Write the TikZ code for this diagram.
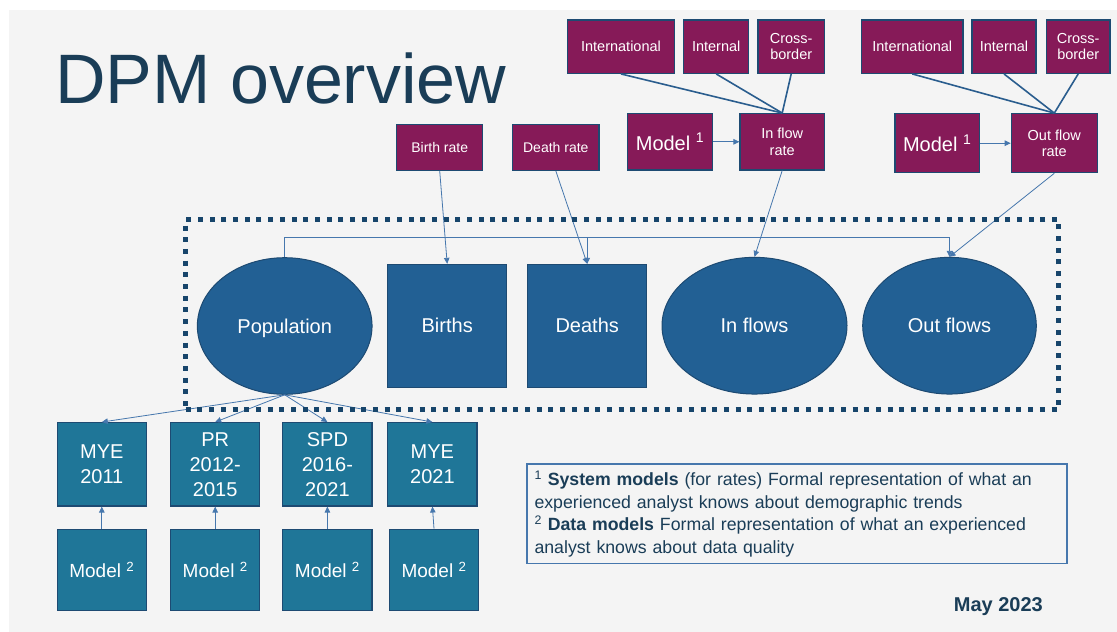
\documentclass[tikz,border=0pt]{standalone}
\usepackage{fontspec}
\setmainfont{Liberation Sans}
\usetikzlibrary{arrows.meta,shapes.geometric}
\definecolor{slide}{HTML}{F4F4F4}
\definecolor{plum}{HTML}{861A58}
\definecolor{popblue}{HTML}{226094}
\definecolor{srcteal}{HTML}{1F7698}
\definecolor{rim}{HTML}{1D4A72}
\definecolor{link}{HTML}{4677AD}
\definecolor{feedline}{HTML}{2A5D8E}
\definecolor{navy}{HTML}{1A3D57}
\definecolor{dots}{HTML}{17456B}
\begin{document}
\begin{tikzpicture}[x=1pt,y=-1pt,
  rate/.style={draw=rim,line width=1.2pt,fill=plum,text=white,inner sep=0pt,align=center,font=\fontsize{14.5}{16.5}\selectfont},
  stock/.style={draw=rim,line width=1pt,fill=popblue,text=white,inner sep=0pt,text height=14.3pt,text depth=0pt,font=\fontsize{20}{24}\selectfont},
  src/.style={draw=rim,line width=1.2pt,fill=srcteal,text=white,inner sep=0pt,align=center,minimum width=89.3pt,font=\fontsize{20}{25}\selectfont},
  arr/.style={draw=link,line width=0.8pt,-{Triangle[length=6pt,width=5.5pt]}},
  feed/.style={draw=feedline,line width=1.6pt}]
	\useasboundingbox (0,0) rectangle (1117,632);
	\fill[white] (0,0) rectangle (1117,632);
	\fill[slide] (9,10) rectangle (1117,632);
	\node[anchor=base west,text=navy,inner sep=0pt,font=\fontsize{70}{80}\selectfont] (title) at (55,103.3) {DPM overview};
	% migration sources
	\node[rate,minimum width=107.4pt,minimum height=53.3pt] (intA) at (621,46.7) {International};
	\node[rate,minimum width=65pt,minimum height=53.3pt] (intlA) at (716.2,46.7) {Internal};
	\node[rate,minimum width=66.3pt,minimum height=53.3pt] (crossA) at (791.2,46.7) {Cross-\\border};
	\node[rate,minimum width=101.3pt,minimum height=53.3pt] (intB) at (912.3,46.7) {International};
	\node[rate,minimum width=64pt,minimum height=53.3pt] (intlB) at (1004,46.7) {Internal};
	\node[rate,minimum width=63.7pt,minimum height=53.3pt] (crossB) at (1078.2,46.7) {Cross-\\border};
	% rates
	\node[rate,minimum width=84.6pt,minimum height=56.3pt,font=\fontsize{20}{24}\selectfont] (modA) at (670,141.8) {Model \textsuperscript{1}};
	\node[rate,minimum width=84.3pt,minimum height=56.3pt] (inrate) at (782.2,141.8) {In flow\\rate};
	\node[rate,minimum width=84.3pt,minimum height=59pt,font=\fontsize{20}{24}\selectfont] (modB) at (937.2,143.2) {Model \textsuperscript{1}};
	\node[rate,minimum width=86pt,minimum height=59pt] (outrate) at (1054.3,143.2) {Out flow\\rate};
	\node[rate,minimum width=86pt,minimum height=45.6pt,font=\fontsize{14}{16}\selectfont] (brate) at (439.7,147.5) {Birth rate};
	\node[rate,minimum width=86.3pt,minimum height=45.6pt,font=\fontsize{14}{16}\selectfont] (drate) at (555.8,147.5) {Death rate};
	% components
	\node[stock,ellipse,minimum width=174.7pt,minimum height=136.6pt] (pop) at (284.7,326) {Population};
	\node[stock,minimum width=119pt,minimum height=122.7pt] (births) at (447.2,325.7) {Births};
	\node[stock,minimum width=119pt,minimum height=122.7pt] (deaths) at (587.2,325.7) {Deaths};
	\node[stock,ellipse,minimum width=185pt,minimum height=136.7pt] (inflows) at (754.5,325.7) {In flows};
	\node[stock,ellipse,minimum width=173.6pt,minimum height=136.7pt] (outflows) at (949.5,325.7) {Out flows};
	% data sources
	\node[src,minimum height=83.3pt] (mye11) at (101.8,464.3) {MYE\\2011};
	\node[src,minimum height=83.3pt] (pr) at (215.2,464.3) {PR\\2012-\\2015};
	\node[src,minimum height=83.3pt] (spd) at (327.4,464.3) {SPD\\2016-\\2021};
	\node[src,minimum height=83.3pt] (mye21) at (432.4,464.3) {MYE\\2021};
	\foreach \n/\x in {mye11/101.8,pr/215.2,spd/327.4,mye21/434}
	  {\node[src,minimum height=81.4pt,font=\fontsize{19}{23}\selectfont] (dm\n) at (\x,570) {Model \textsuperscript{2}};
	   \draw[arr] (dm\n.north) -- (\n.south);
	   \draw[arr] (pop.south) -- (\n.north);}
	% connectors
	\foreach \s in {intA,intlA,crossA} \draw[feed] (\s.south) -- (inrate.north);
	\foreach \s in {intB,intlB,crossB} \draw[feed] (\s.south) -- (outrate.north);
	\draw[arr] (modA) -- (inrate);
	\draw[arr] (modB) -- (outrate);
	\draw[arr] (brate.south) -- (births.north);
	\draw[arr] (drate.south) -- (deaths.north);
	\draw[arr] (inrate.south) -- (inflows.north);
	\draw[arr] (outrate.south) -- (outflows.north);
	\coordinate (bus) at (0,237.3);
	\draw[arr] (pop.north) |- (bus -| outflows.north) -- (outflows.north);
	\draw[arr] (bus -| deaths.north) -- (deaths.north);
	\node[draw=dots,line width=4.5pt,dash pattern=on 5pt off 6.7pt,minimum width=873pt,minimum height=190pt] (core) at (622.2,314.3) {};
	% notes
	\node[draw=link,line width=1.3pt,minimum width=539.9pt,minimum height=99.3pt,inner xsep=7.6pt,text width=524.7pt,align=left,text=navy,font=\fontsize{17.7}{22.5}\selectfont] (notes) at (796.9,513.7)
	  {\textsuperscript{1} \textbf{System models} (for rates) Formal representation of what an\\experienced analyst knows about demographic trends\\\textsuperscript{2} \textbf{Data models} Formal representation of what an experienced\\analyst knows about data quality};
	\node[anchor=base,text=navy,inner sep=0pt,font=\bfseries\fontsize{20}{24}\selectfont] (date) at (998.4,611.2) {May 2023};
\end{tikzpicture}
\end{document}
